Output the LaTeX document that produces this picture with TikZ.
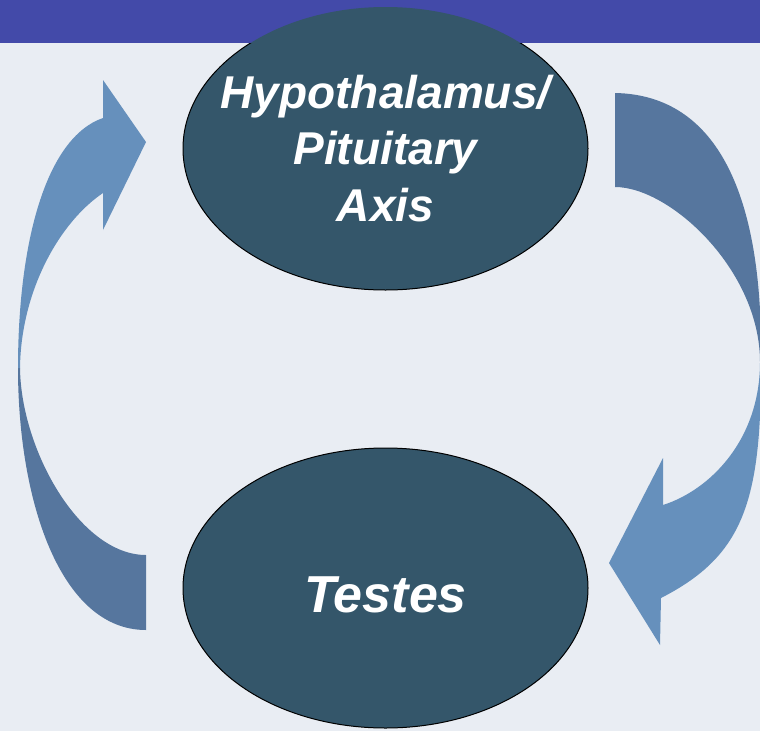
\documentclass[tikz,border=0pt]{standalone}
\usepackage{fontspec}
\setmainfont{Liberation Sans}
\usetikzlibrary{shapes.geometric}
\definecolor{bgc}{HTML}{E9EDF3}
\definecolor{bandc}{HTML}{434AA9}
\definecolor{ovalc}{HTML}{34566A}
\definecolor{arrlight}{HTML}{6690BC}
\definecolor{arrdark}{HTML}{56769E}
\tikzset{
  ovalbox/.style={ellipse, fill=ovalc, inner sep=0pt},
  ovalline/.style={draw=black, line width=1pt},
  arrowlight/.style={fill=arrlight, draw=none},
  arrowdark/.style={fill=arrdark, draw=none},
  ovaltext/.style={text=white, inner sep=0pt, align=center}
}
\begin{document}
\begin{tikzpicture}[x=1pt,y=-1pt]
\useasboundingbox (0,0) rectangle (760,731);
\clip (0,0) rectangle (760,731);
\fill[bgc] (0,0) rectangle (760,731);
\fill[bandc] (0,0) rectangle (760,43);

% left curved arrow (Testes -> Hypothalamus)
\path[arrowdark] (18,368) .. controls (18,500) and (60,630) .. (146,630)
  -- (146,555) .. controls (80,555) and (21,450) .. (20,368) -- cycle;
\path[arrowlight] (18,368) .. controls (18,245) and (45,138) .. (103,118)
  -- (103,80) -- (146,142) -- (103,230) -- (103,193)
  .. controls (60,222) and (21,290) .. (20,368) -- cycle;

% right curved arrow (Hypothalamus -> Testes)
\path[arrowdark] (615,93) .. controls (720,95) and (762,200) .. (761,355)
  -- (760,362) .. controls (760,270) and (670,187) .. (615,187) -- cycle;
\path[arrowlight] (761,355) .. controls (762,500) and (745,555) .. (661,598)
  -- (660,645) -- (609,563) -- (663,458) -- (663,505)
  .. controls (710,490) and (760,440) .. (760,362) -- cycle;

% ovals
\node[ovalbox, minimum width=405pt, minimum height=283pt] (hpa) at (385.5,148.5) {};
\begin{scope}
  \clip (0,43) rectangle (760,731);
  \draw[ovalline] (hpa.center) ellipse [x radius=202.5, y radius=141.5];
\end{scope}
\node[ovaltext, font=\fontsize{46}{56.5}\selectfont\bfseries\itshape]
  (hpatext) at (hpa.center) {Hypothalamus/\\Pituitary\\Axis};

\node[ovalbox, ovalline, minimum width=405pt, minimum height=280pt]
  (testes) at (385.5,588) {};
\node[ovaltext, anchor=base, font=\fontsize{52}{60}\selectfont\bfseries\itshape]
  (testeslabel) at ([yshift=-24pt]testes.center) {Testes};
\end{tikzpicture}
\end{document}
